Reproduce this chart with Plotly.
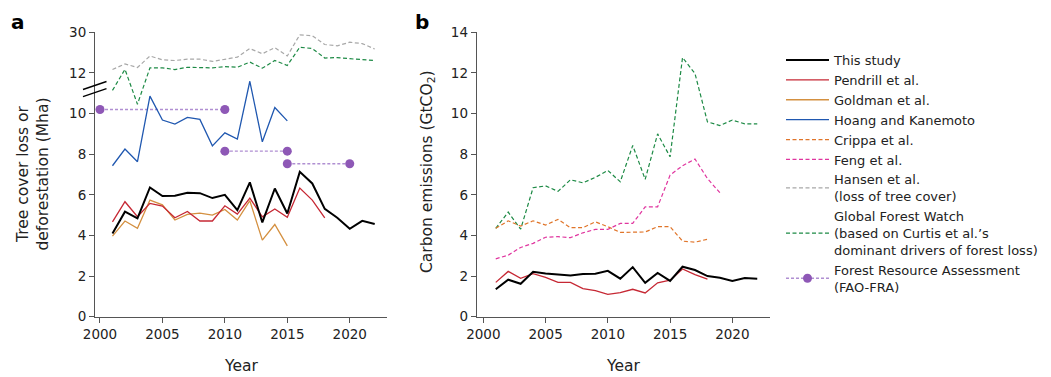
import plotly.graph_objects as go

# ---------------- data ----------------
years = list(range(2001, 2023))

# Panel a: tree cover loss / deforestation (Mha)
a_this_study = [4.10, 5.17, 4.84, 6.36, 5.94, 5.95, 6.10, 6.08, 5.84, 6.00, 5.25,
                6.61, 4.64, 6.31, 5.08, 7.13, 6.56, 5.31, 4.87, 4.33, 4.72, 4.56]
a_pendrill = [4.67, 5.66, 4.92, 5.58, 5.45, 4.87, 5.18, 4.71, 4.71, 5.46, 5.05,
              5.84, 4.92, 5.30, 4.89, 6.33, 5.74, 4.87]
a_goldman = [3.97, 4.71, 4.35, 5.74, 5.51, 4.76, 5.04, 5.10, 5.00, 5.28, 4.76,
             5.71, 3.77, 4.54, 3.49]
a_hoang = [7.43, 8.25, 7.63, 10.86, 9.68, 9.48, 9.81, 9.71, 8.41, 9.05, 8.74,
           11.59, 8.61, 10.30, 9.64]
a_hansen = [13.5, 16.0, 14.4, 19.5, 17.8, 17.5, 18.1, 18.1, 17.1, 18.1, 19.0,
            22.8, 20.5, 23.2, 19.5, 28.9, 28.5, 24.6, 24.0, 25.6, 25.0, 22.6]
a_gfw = [11.14, 13.6, 10.46, 14.25, 14.25, 13.5, 14.5, 14.4, 14.25, 14.8, 14.5,
         16.8, 14.1, 17.5, 15.3, 23.4, 22.8, 18.6, 18.8, 18.3, 17.8, 17.5]
fra_start = [2000, 2010, 2015]
fra_end = [2010, 2015, 2020]
fra_value = [10.2, 8.15, 7.53]

a_tick_values = [0, 2, 4, 6, 8, 10, 12, 30]

# Panel b: carbon emissions (GtCO2)
b_this_study = [1.35, 1.82, 1.62, 2.21, 2.13, 2.09, 2.03, 2.10, 2.12, 2.26, 1.87,
                2.44, 1.67, 2.15, 1.76, 2.46, 2.30, 2.00, 1.92, 1.76, 1.90, 1.87]
b_pendrill = [1.69, 2.23, 1.89, 2.12, 1.94, 1.69, 1.69, 1.38, 1.28, 1.10, 1.18,
              1.35, 1.17, 1.67, 1.80, 2.35, 2.07, 1.85]
b_crippa = [4.35, 4.72, 4.46, 4.72, 4.51, 4.79, 4.38, 4.38, 4.67, 4.43, 4.15,
            4.17, 4.17, 4.43, 4.43, 3.72, 3.67, 3.81]
b_feng = [2.85, 3.03, 3.41, 3.61, 3.91, 3.94, 3.89, 4.13, 4.30, 4.30, 4.59,
          4.59, 5.41, 5.41, 6.97, 7.43, 7.76, 6.80, 6.10]
b_gfw = [4.35, 5.15, 4.31, 6.35, 6.44, 6.17, 6.74, 6.59, 6.86, 7.20, 6.64,
         8.43, 6.76, 9.00, 7.87, 12.76, 11.97, 9.59, 9.41, 9.68, 9.49, 9.49]
b_tick_values = [0, 2, 4, 6, 8, 10, 12, 14]
x_tick_values = [2000, 2005, 2010, 2015, 2020]

# ---------------- styling ----------------
FONT = "DejaVu Sans, Arial, sans-serif"
W, H = 1051, 377
C_BLACK = "#000000"
C_RED = "#c62834"
C_GOLD = "#d49040"
C_BLUE = "#2058b0"
C_ORANGE = "#e0752a"
C_MAGENTA = "#e0359f"
C_GRAY = "#a8a8a8"
C_GREEN = "#1d8a45"
C_PURPLE = "#8e58b6"
C_PURPLE_L = "#b08fd2"
DASH = "4px,2.5px"


def brk(v):
    """broken axis: linear 0-12, then 12-30 compressed into 2 display units"""
    if v is None:
        return None
    return v if v <= 12 else 12 + (v - 12) * 2.0 / 18.0


fig = go.Figure()


def add(x, y, name, color, width, dash="solid", xa="x", ya="y", show=False,
        rank=1000, transform=False):
    yy = [brk(v) for v in y] if transform else y
    fig.add_trace(go.Scatter(
        x=x[:len(y)], y=yy, mode="lines", name=name, xaxis=xa, yaxis=ya,
        line=dict(color=color, width=width, dash=dash),
        showlegend=show, legendrank=rank, hoverinfo="skip"))


# FAO-FRA segments (panel a)
fx, fy = [], []
for s, e, v in zip(fra_start, fra_end, fra_value):
    fx += [s, e, None]
    fy += [v, v, None]
fig.add_trace(go.Scatter(
    x=fx, y=[brk(v) for v in fy], mode="lines+markers",
    name="Forest Resource Assessment<br>(FAO-FRA)", xaxis="x", yaxis="y",
    line=dict(color=C_PURPLE_L, width=1.4, dash="3px,2px"),
    marker=dict(color=C_PURPLE, size=9), showlegend=True, legendrank=9,
    hoverinfo="skip"))

# panel a
add(years, a_hansen, "Hansen et al.<br>(loss of tree cover)", C_GRAY, 1.2, DASH,
    show=True, rank=7, transform=True)
add(years, a_gfw, "gfw_a", C_GREEN, 1.2, DASH, transform=True)
add(years, a_hoang, "Hoang and Kanemoto", C_BLUE, 1.3, show=True, rank=4, transform=True)
add(years, a_goldman, "Goldman et al.", C_GOLD, 1.3, show=True, rank=3, transform=True)
add(years, a_pendrill, "pend_a", C_RED, 1.3, transform=True)
add(years, a_this_study, "this_a", C_BLACK, 2.0, transform=True)

# panel b
add(years, b_gfw, "Global Forest Watch<br>(based on Curtis et al.\u2019s<br>dominant drivers of forest loss)",
    C_GREEN, 1.2, DASH, "x2", "y2", show=True, rank=8)
add(years, b_crippa, "Crippa et al.", C_ORANGE, 1.2, DASH, "x2", "y2", show=True, rank=5)
add(years, b_feng, "Feng et al.", C_MAGENTA, 1.2, DASH, "x2", "y2", show=True, rank=6)
add(years, b_pendrill, "Pendrill et al.", C_RED, 1.3, "solid", "x2", "y2", show=True, rank=2)
add(years, b_this_study, "This study", C_BLACK, 2.0, "solid", "x2", "y2", show=True, rank=1)

# ---------------- layout ----------------
def px(x):
    return x / W


def py(y):
    return 1 - y / H


ax_common = dict(showline=True, linecolor="#555555", linewidth=1, ticks="outside",
                 ticklen=5, tickwidth=1, tickcolor="#555555", showgrid=False,
                 zeroline=False, automargin=False,
                 tickfont=dict(family=FONT, size=13.5, color="#222222"))

xa_dom = [px(95), px(387.2)]
xb_dom = [px(476.7), px(769.7)]
y_dom = [py(316.7), py(32.3)]

fig.update_layout(
    width=W, height=H, margin=dict(l=0, r=0, t=0, b=0),
    paper_bgcolor="white", plot_bgcolor="white",
    font=dict(family=FONT, size=13, color="#222222"),
    xaxis=dict(domain=xa_dom, range=[1999.6, 2023.0], tickvals=x_tick_values,
               anchor="y", **ax_common),
    yaxis=dict(domain=y_dom, range=[0, 14], tickvals=[brk(v) for v in a_tick_values],
               ticktext=[str(v) for v in a_tick_values], anchor="x", **ax_common),
    xaxis2=dict(domain=xb_dom, range=[1999.47, 2023.0], tickvals=x_tick_values,
                anchor="y2", **ax_common),
    yaxis2=dict(domain=y_dom, range=[0, 14], tickvals=b_tick_values, anchor="x2",
                **ax_common),
    legend=dict(x=px(781), y=py(45), xanchor="left", yanchor="top",
                font=dict(family=FONT, size=13, color="#222222"),
                bgcolor="rgba(0,0,0,0)", tracegroupgap=0, itemwidth=43,
                traceorder="normal"),
)

ann = []
ann.append(dict(text="<b>a</b>", x=px(18), y=py(22), font=dict(size=20, color="#000")))
ann.append(dict(text="<b>b</b>", x=px(422), y=py(22), font=dict(size=20, color="#000")))
ann.append(dict(text="Tree cover loss or<br>deforestation (Mha)", x=px(32), y=py(174.5),
                textangle=-90, font=dict(size=15.5, color="#222")))
ann.append(dict(text="Carbon emissions (GtCO<sub>2</sub>)", x=px(428), y=py(172),
                textangle=-90, font=dict(size=15.5, color="#222")))
ann.append(dict(text="Year", x=(xa_dom[0] + xa_dom[1]) / 2, y=py(365.5),
                font=dict(size=15.5, color="#222")))
ann.append(dict(text="Year", x=(xb_dom[0] + xb_dom[1]) / 2, y=py(365.5),
                font=dict(size=15.5, color="#222")))
for a in ann:
    a.update(xref="paper", yref="paper", showarrow=False, xanchor="center",
             yanchor="middle")
    a["font"]["family"] = FONT
fig.update_layout(annotations=ann)

# axis break marks on panel a
shapes = []
for dy in (0, 7.2):
    shapes.append(dict(type="line", xref="paper", yref="paper",
                       x0=px(83), y0=py(89.5 + dy), x1=px(106.5), y1=py(81.5 + dy),
                       line=dict(color="#000", width=1.4)))
fig.update_layout(shapes=shapes)

fig.write_html("out.html")
